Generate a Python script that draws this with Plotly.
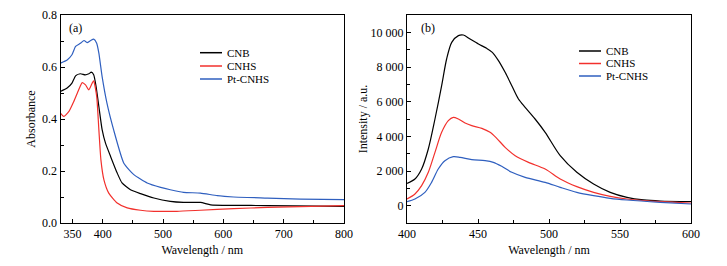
import plotly.graph_objects as go

# ---- Panel (a): UV-vis absorbance ----
series_names = ["CNB", "CNHS", "Pt-CNHS"]
series_colors = ["#000000", "#f2302c", "#2f5fbf"]

abs_cnb_x = [330, 341, 349, 355, 363, 371, 377, 381, 385, 389, 393.6, 399, 404.6, 413, 424, 432, 446, 462.7, 484.8, 512, 534, 562, 579, 617, 673, 800]
abs_cnb_y = [0.506, 0.519, 0.538, 0.566, 0.574, 0.570, 0.574, 0.580, 0.570, 0.525, 0.448, 0.359, 0.307, 0.256, 0.192, 0.154, 0.128, 0.113, 0.096, 0.083, 0.079, 0.079, 0.070, 0.068, 0.067, 0.064]

abs_cnhs_x = [330, 335.5, 344, 352, 360, 366, 371.5, 377, 382.5, 385, 390, 393.6, 397, 402, 410, 424, 440.6, 462.7, 484.8, 523, 562, 617, 673, 800]
abs_cnhs_y = [0.423, 0.410, 0.429, 0.467, 0.512, 0.540, 0.531, 0.512, 0.538, 0.547, 0.487, 0.359, 0.243, 0.166, 0.115, 0.077, 0.058, 0.049, 0.045, 0.045, 0.049, 0.055, 0.060, 0.067]

abs_pt_x = [330, 341, 349, 355, 363, 369, 374, 380, 385, 390, 393.6, 399, 407, 418, 435, 451.6, 473.7, 496, 512, 534, 562, 590, 617, 673, 728, 800]
abs_pt_y = [0.615, 0.627, 0.647, 0.679, 0.691, 0.702, 0.694, 0.702, 0.707, 0.691, 0.653, 0.563, 0.461, 0.359, 0.230, 0.186, 0.154, 0.137, 0.128, 0.118, 0.115, 0.105, 0.100, 0.096, 0.092, 0.090]

# ---- Panel (b): PL intensity ----
pl_cnb_x = [400, 405.6, 410.3, 415, 419.7, 424.4, 427.9, 431.5, 436.2, 439.7, 444.4, 450.3, 456.1, 460.1, 464.4, 469.1, 473.8, 478.5, 483.2, 490.2, 497.3, 507.9, 519.6, 531.4, 543.1, 554.9, 566.6, 578.4, 600]
pl_cnb_y = [1288, 1538, 2115, 3270, 5000, 6923, 8462, 9423, 9808, 9846, 9615, 9327, 9077, 8846, 8365, 7692, 6923, 6154, 5673, 5000, 4231, 2885, 1923, 1250, 769, 480, 330, 270, 240]

pl_cnhs_x = [400, 405.6, 410.3, 415, 419.7, 424.4, 429.1, 432.6, 436.2, 440.9, 445.6, 452.7, 458.5, 463.2, 469.1, 476.2, 485.6, 497.3, 507.9, 519.6, 531.4, 543.1, 554.9, 578.4, 600]
pl_cnhs_y = [385, 673, 1154, 1923, 3077, 4231, 4904, 5096, 5000, 4769, 4615, 4462, 4231, 3885, 3365, 2885, 2500, 2115, 1538, 1096, 769, 538, 385, 231, 154]

pl_pt_x = [400, 405.6, 412.6, 417.3, 422, 426.7, 432.6, 437.4, 445.6, 455, 460.8, 466.7, 473.8, 483.2, 497.3, 507.9, 519.6, 531.4, 543.1, 554.9, 578.4, 600]
pl_pt_y = [231, 385, 769, 1346, 2115, 2596, 2827, 2788, 2654, 2596, 2500, 2269, 1923, 1635, 1346, 1058, 769, 577, 423, 327, 192, 96]

a_xticks = [350, 400, 500, 600, 700, 800]
a_xminor = [450, 550, 650, 750]
a_yticks = [0.0, 0.2, 0.4, 0.6, 0.8]
a_yminor = [0.1, 0.3, 0.5, 0.7]
b_xticks = [400, 450, 500, 550, 600]
b_xminor = [425, 475, 525, 575]
b_yticks = [0, 2000, 4000, 6000, 8000, 10000]
b_yticklabels = ["0", "2 000", "4 000", "6 000", "8 000", "10 000"]
b_yminor = [-1000, 1000, 3000, 5000, 7000, 9000]

FONT = "Liberation Serif"
FS = 12
LFS = 11
fig = go.Figure()

abs_data = [(abs_cnb_x, abs_cnb_y), (abs_cnhs_x, abs_cnhs_y), (abs_pt_x, abs_pt_y)]
pl_data = [(pl_cnb_x, pl_cnb_y), (pl_cnhs_x, pl_cnhs_y), (pl_pt_x, pl_pt_y)]
for (x, y), name, c in zip(abs_data, series_names, series_colors):
    fig.add_trace(go.Scatter(x=x, y=y, mode="lines", name=name, showlegend=False,
                             line=dict(color=c, width=1.2, shape="spline", smoothing=0.5),
                             xaxis="x", yaxis="y"))
for (x, y), name, c in zip(pl_data, series_names, series_colors):
    fig.add_trace(go.Scatter(x=x, y=y, mode="lines", name=name, showlegend=False,
                             line=dict(color=c, width=1.2, shape="spline", smoothing=0.8),
                             xaxis="x2", yaxis="y2"))

# page body has an 8px margin: work in window pixels and convert
OFF = 8
W, H = 727 - OFF, 266 - OFF
def px(x): return (x - OFF) / W
def py(y): return 1 - (y - OFF) / H

axis_common = dict(showline=True, linecolor="black", linewidth=1, mirror=True,
                   ticks="inside", ticklen=4, tickwidth=1, tickcolor="black",
                   showgrid=False, zeroline=False, automargin=False,
                   tickfont=dict(family=FONT, size=FS, color="black"),
                   title_font=dict(family=FONT, size=FS, color="black"))

ydom = [py(223), py(15)]
fig.update_layout(
    width=W, height=H, margin=dict(l=0, r=0, t=0, b=0),
    paper_bgcolor="white", plot_bgcolor="white", showlegend=False,
    font=dict(family=FONT, size=FS, color="black"),
    xaxis=dict(domain=[px(60.5), px(344)], range=[330, 800], tickvals=a_xticks,
               minor=dict(tickvals=a_xminor, ticks="inside", ticklen=3, tickcolor="black"),
               title=dict(text="Wavelength / nm", standoff=5), anchor="y", **axis_common),
    yaxis=dict(domain=ydom, range=[0, 0.8], tickvals=a_yticks, tickformat=".1f",
               minor=dict(tickvals=a_yminor, ticks="inside", ticklen=3, tickcolor="black"),
               title=dict(text="Absorbance", standoff=3), anchor="x", **axis_common),
    xaxis2=dict(domain=[px(407), px(691)], range=[400, 600], tickvals=b_xticks,
                minor=dict(tickvals=b_xminor, ticks="inside", ticklen=3, tickcolor="black"),
                title=dict(text="Wavelength / nm", standoff=5), anchor="y2", **axis_common),
    yaxis2=dict(domain=ydom, range=[-1000, 11000], tickvals=b_yticks, ticktext=b_yticklabels,
                minor=dict(tickvals=b_yminor, ticks="inside", ticklen=3, tickcolor="black"),
                title=dict(text="Intensity / a.u.", standoff=0), anchor="x2", **axis_common),
)

# panel labels
fig.add_annotation(x=px(67), y=py(28), xref="paper", yref="paper", text="(a)", showarrow=False,
                   xanchor="left", yanchor="middle", font=dict(family=FONT, size=FS, color="black"))
fig.add_annotation(x=px(419), y=py(28), xref="paper", yref="paper", text="(b)", showarrow=False,
                   xanchor="left", yanchor="middle", font=dict(family=FONT, size=FS, color="black"))

# custom legends
legends = [(200, 222, 226, [52.7, 66, 79]), (579, 601, 605, [51, 63.5, 76])]
for x0, x1, xt, ys in legends:
    for name, c, yy in zip(series_names, series_colors, ys):
        fig.add_shape(type="line", xref="paper", yref="paper", x0=px(x0), x1=px(x1),
                      y0=py(yy), y1=py(yy), line=dict(color=c, width=1.5))
        fig.add_annotation(x=px(xt), y=py(yy), xref="paper", yref="paper", text=name,
                           showarrow=False, xanchor="left", yanchor="middle", borderpad=0,
                           font=dict(family=FONT, size=LFS, color="black"))

fig.write_html("out.html")
